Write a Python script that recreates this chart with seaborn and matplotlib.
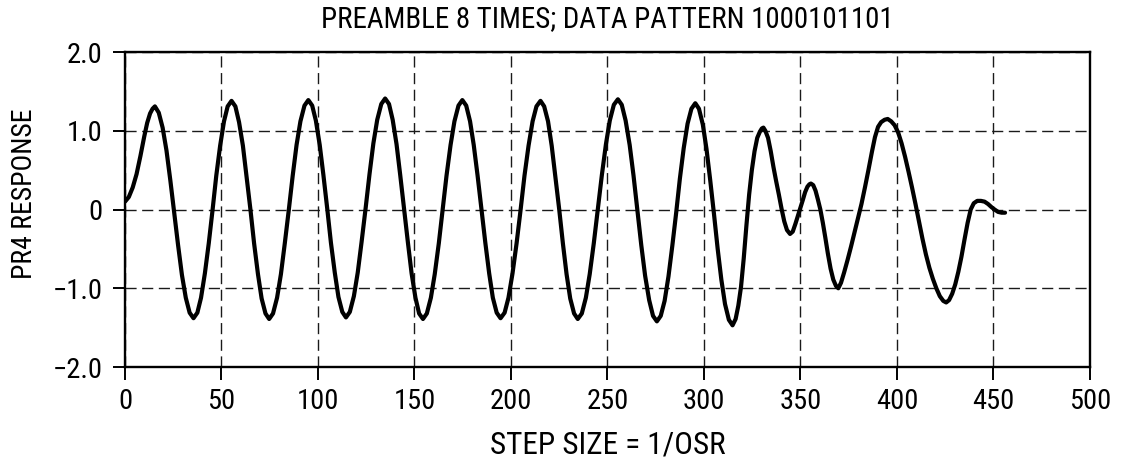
import matplotlib
matplotlib.use("Agg")
import matplotlib.pyplot as plt
from matplotlib import font_manager
import seaborn as sns

# Sampled PR4 read-back response (step index in units of 1/OSR)
step = [
    0, 2, 4, 6, 8, 10, 11.5, 13, 14.3, 15.5,
    17.5, 19.5, 21.5, 23.5, 25.5, 27.5, 29.5, 31.5, 33.5, 35.5,
    37.5, 39.4, 41.4, 43.4, 45.4, 47.3, 49.3, 51.3, 53.2, 55.2,
    57.2, 59.1, 61.1, 63.0, 65.0, 66.9, 68.9, 70.8, 72.8, 74.7,
    76.7, 78.8, 80.8, 82.8, 84.9, 86.9, 88.9, 90.9, 93.0, 95.0,
    97.0, 98.9, 100.9, 102.8, 104.8, 106.7, 108.7, 110.6, 112.6, 114.5,
    116.5, 118.6, 120.6, 122.6, 124.7, 126.7, 128.7, 130.7, 132.8, 134.8,
    136.8, 138.7, 140.7, 142.6, 144.6, 146.6, 148.5, 150.5, 152.4, 154.4,
    156.4, 158.5, 160.5, 162.6, 164.6, 166.6, 168.7, 170.7, 172.8, 174.8,
    176.8, 178.8, 180.7, 182.7, 184.7, 186.7, 188.7, 190.6, 192.6, 194.6,
    196.7, 198.7, 200.8, 202.9, 205.0, 207.0, 209.1, 211.2, 213.2, 215.3,
    217.2, 219.2, 221.1, 223.0, 225.0, 226.9, 228.8, 230.7, 232.7, 234.6,
    236.7, 238.8, 240.8, 242.9, 245.0, 247.1, 249.2, 251.2, 253.3, 255.4,
    257.4, 259.4, 261.5, 263.5, 265.5, 267.5, 269.5, 271.6, 273.6, 275.6,
    277.6, 279.6, 281.6, 283.6, 285.6, 287.5, 289.5, 291.5, 293.5, 295.5,
    297.4, 299.4, 301.3, 303.2, 305.2, 307.1, 309.0, 310.9, 312.9, 314.8,
    316.4, 317.8, 319.2, 320.6, 322.0, 323.4, 324.8, 326.2, 327.6, 329.0, 330.0, 330.8,
    331.8, 333.2, 334.6, 336.0, 337.4, 338.8, 340.2, 341.6, 343.0, 344.6,
    346.0, 347.4, 348.8, 350.0, 351.2, 352.4, 353.6, 354.6, 355.4,
    356.6, 357.8, 359.0, 360.3, 361.6, 362.9, 364.2, 365.6, 367.0, 368.4, 369.6,
    371.0, 372.6, 374.4, 376.2, 378.0, 379.8, 381.6, 383.4, 385.2, 387.0,
    388.6, 390.2, 391.8, 393.6, 395.2,
    397.0, 398.8, 400.6, 402.4, 404.2, 406.0, 407.8, 409.6, 411.4, 413.2,
    415.0, 416.8, 418.6, 420.4, 422.2, 424.0, 425.5,
    427.0, 428.6, 430.2, 431.8, 433.4, 435.0, 436.6, 438.2, 439.8, 441.6, 443.5,
    445.4, 447.2, 449.0, 450.6, 452.4, 454.2, 456.0,
]
response = [
    0.10, 0.16, 0.28, 0.45, 0.68, 0.93, 1.10, 1.22, 1.28, 1.31,
    1.23, 1.04, 0.75, 0.37, -0.04, -0.45, -0.83, -1.12, -1.31, -1.38,
    -1.31, -1.12, -0.81, -0.43, 0.00, 0.43, 0.81, 1.12, 1.31, 1.38,
    1.31, 1.11, 0.81, 0.42, 0.00, -0.43, -0.82, -1.13, -1.32, -1.39,
    -1.32, -1.12, -0.82, -0.43, 0.00, 0.43, 0.82, 1.12, 1.32, 1.39,
    1.32, 1.13, 0.82, 0.44, 0.01, -0.42, -0.80, -1.11, -1.30, -1.37,
    -1.30, -1.10, -0.80, -0.41, 0.02, 0.45, 0.84, 1.14, 1.34, 1.41,
    1.34, 1.14, 0.83, 0.44, 0.01, -0.42, -0.81, -1.12, -1.32, -1.39,
    -1.32, -1.12, -0.82, -0.43, 0.00, 0.43, 0.82, 1.12, 1.32, 1.39,
    1.32, 1.12, 0.82, 0.43, 0.01, -0.42, -0.81, -1.12, -1.31, -1.38,
    -1.31, -1.12, -0.81, -0.43, 0.00, 0.43, 0.81, 1.12, 1.31, 1.38,
    1.31, 1.12, 0.81, 0.42, 0.00, -0.43, -0.82, -1.13, -1.32, -1.39,
    -1.32, -1.12, -0.82, -0.43, 0.00, 0.44, 0.83, 1.13, 1.33, 1.40,
    1.33, 1.13, 0.82, 0.43, -0.01, -0.45, -0.84, -1.15, -1.35, -1.42,
    -1.35, -1.16, -0.85, -0.46, -0.04, 0.39, 0.78, 1.09, 1.28, 1.35,
    1.28, 1.08, 0.77, 0.38, -0.06, -0.50, -0.89, -1.20, -1.40, -1.47,
    -1.39, -1.22, -0.98, -0.62, -0.20, 0.19, 0.50, 0.74, 0.91, 0.99, 1.03, 1.04,
    1.00, 0.91, 0.74, 0.54, 0.36, 0.19, 0.01, -0.15, -0.26, -0.31,
    -0.28, -0.18, -0.07, 0.02, 0.12, 0.22, 0.29, 0.32, 0.33,
    0.31, 0.24, 0.13, 0.00, -0.17, -0.36, -0.56, -0.75, -0.89, -0.97, -1.00,
    -0.93, -0.80, -0.64, -0.47, -0.29, -0.11, 0.07, 0.28, 0.50, 0.73,
    0.92, 1.05, 1.11, 1.14, 1.15,
    1.12, 1.07, 0.98, 0.84, 0.67, 0.48, 0.28, 0.07, -0.15, -0.37,
    -0.57, -0.74, -0.88, -1.00, -1.10, -1.16, -1.18,
    -1.15, -1.07, -0.95, -0.79, -0.60, -0.38, -0.17, 0.00, 0.08, 0.11, 0.11,
    0.10, 0.07, 0.03, 0.00, -0.03, -0.04, -0.04,
]

x_ticks = [0, 50, 100, 150, 200, 250, 300, 350, 400, 450, 500]
x_tick_labels = ["0", "50", "100", "150", "200", "250", "300", "350", "400", "450", "500"]
y_ticks = [-2.0, -1.0, 0.0, 1.0, 2.0]
y_tick_labels = ["\u22122.0", "\u22121.0", "0", "1.0", "2.0"]

title = "PREAMBLE 8 TIMES; DATA PATTERN 1000101101"
x_label = "STEP SIZE = 1/OSR"
y_label = "PR4 RESPONSE"

sns.set_style("ticks")

# Prefer a narrow sans face when one is available, else plain DejaVu Sans
fonts = font_manager.fontManager.ttflist
names = {f.name for f in fonts}
family, stretch, narrow = "DejaVu Sans", "normal", False
for cand in ["Liberation Sans Narrow", "Roboto Condensed", "Open Sans Condensed",
             "Noto Sans Condensed", "Noto Sans SemiCondensed"]:
    if cand in names:
        family, narrow = cand, True
        break
else:
    if any(f.name == "DejaVu Sans" and f.stretch == "condensed" for f in fonts):
        stretch, narrow = "condensed", True

plt.rcParams["font.family"] = [family, "DejaVu Sans"]
plt.rcParams["font.stretch"] = stretch
for key in ["text.color", "axes.labelcolor", "xtick.color", "ytick.color"]:
    plt.rcParams[key] = "black"

if narrow:
    tick_size, title_size, xlabel_size, ylabel_size = 20.5, 20.8, 22.5, 20.0
else:
    tick_size, title_size, xlabel_size, ylabel_size = 18.0, 16.8, 18.0, 17.5

fig = plt.figure(figsize=(11.26, 4.73), dpi=100)
ax = fig.add_axes([0.111, 0.224, 0.857, 0.666])

sns.lineplot(x=step, y=response, ax=ax, color="black", linewidth=3.0,
             solid_joinstyle="round", solid_capstyle="round", zorder=3)

ax.set_xlim(0, 500)
ax.set_ylim(-2.0, 2.0)
ax.set_xticks(x_ticks)
ax.set_xticklabels(x_tick_labels)
ax.set_yticks(y_ticks)
ax.set_yticklabels(y_tick_labels)

ax.grid(True, color="#1a1a1a", linewidth=1.0, linestyle=(0, (8, 4)))
for side in ["left", "right", "top", "bottom"]:
    ax.spines[side].set_visible(True)
    ax.spines[side].set_linewidth(1.7)
    ax.spines[side].set_color("black")

ax.tick_params(axis="both", direction="out", length=9, width=1.4,
               color="black", labelsize=tick_size, pad=7)
ax.tick_params(axis="x", pad=6)

ax.set_title(title, fontsize=title_size, pad=18)
ax.set_xlabel(x_label, fontsize=xlabel_size)
ax.xaxis.set_label_coords(0.5, -0.2)
ax.set_ylabel(y_label, fontsize=ylabel_size)
ax.yaxis.set_label_coords(-0.09, 0.55)

fig.savefig("out.png", dpi=100, facecolor="white")
